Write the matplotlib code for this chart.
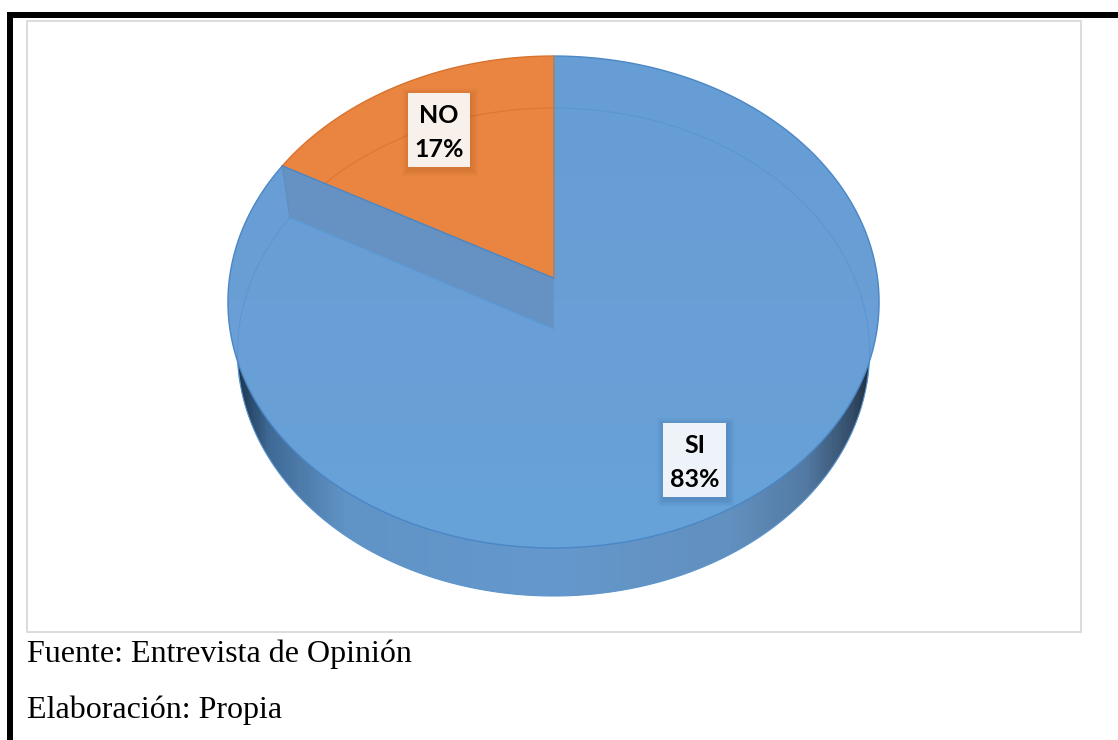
import matplotlib
matplotlib.use("Agg")
import matplotlib.pyplot as plt
import numpy as np
from matplotlib.colors import LinearSegmentedColormap
from matplotlib.patches import Polygon, Rectangle

categories = ["SI", "NO"]
shares = [83, 17]
source_lines = ["Fuente: Entrevista de Opinión", "Elaboración: Propia"]

BLUE_CUT, ORANGE = "#6592C2", "#E98540"
EDGE_BLUE, EDGE_ORANGE = "#4A87C6", "#D8722E"
CX = 553.5

fig = plt.figure(figsize=(11.18, 7.4), dpi=100)
ax = fig.add_axes([0, 0, 1, 1])


def rim(deg, mid, amp, k, half_w):
    # circle seen in perspective, deg counted anticlockwise from the top
    t = np.radians(deg)
    w = 1 + k * np.cos(t)
    return CX - half_w * np.sin(t) / w, (mid - amp * np.cos(t)) / w


def top_rim(deg):
    return rim(deg, 278, 216.5, 0.0976, 324)


def low_rim(deg):
    return rim(deg, 329, 210.8, 0.0943, 314.6)


def xy(pts):
    return np.column_stack(pts)


def clipped_gradient(cmap, vals, extent, outline, zorder):
    im = ax.imshow(vals, cmap=cmap, aspect="auto", extent=extent, zorder=zorder)
    patch = Polygon(outline, closed=True, transform=ax.transData,
                    facecolor="none", edgecolor="none")
    ax.add_patch(patch)
    im.set_clip_path(patch)


no_angle = shares[1] / sum(shares) * 360
full = np.linspace(0, 360, 721)
si_deg = np.linspace(no_angle, 360, 600)
no_deg = np.linspace(0, no_angle, 120)

# side wall, dark towards both ends
wall_cmap = LinearSegmentedColormap.from_list("wall", [
    (0.0, "#1d3650"), (0.05, "#3f6a96"), (0.17, "#6093c6"), (0.5, "#6598cc"),
    (0.78, "#6290bf"), (0.9, "#537aa3"), (0.97, "#354f6b"), (1.0, "#22303f")])
clipped_gradient(wall_cmap, np.linspace(0, 1, 400)[None, :], (236, 871, 600, 300),
                 xy(low_rim(full)), 1)
ax.plot(*low_rim(full), color="#5c95cd", lw=0.8, zorder=1.5)

# top face of SI
si_outline = np.vstack([xy(top_rim(si_deg)), [CX, 278]])
face_cmap = LinearSegmentedColormap.from_list("face", ["#669DD5", "#6A9FD6", "#66A2D8"])
clipped_gradient(face_cmap, np.linspace(0, 1, 200)[:, None], (220, 890, 550, 50), si_outline, 2)
ax.add_patch(Polygon(si_outline, closed=True, facecolor="none", edgecolor=EDGE_BLUE, lw=1.0, zorder=2.1))

# recess left by the NO slice
cut = [top_rim(no_angle), (CX, 278), (CX, 329), low_rim(no_angle)]
ax.add_patch(Polygon(cut, closed=True, facecolor=BLUE_CUT, edgecolor="none", zorder=3))
ax.plot([cut[1][0], cut[0][0]], [cut[1][1], cut[0][1]], color=EDGE_BLUE, lw=1.0, zorder=5)
ax.plot([cut[2][0], cut[3][0]], [cut[2][1], cut[3][1]], color="#5b9bd8", lw=0.9, zorder=3.5)
ax.plot([cut[0][0], cut[3][0]], [cut[0][1], cut[3][1]], color="#5f8dbd", lw=0.8, zorder=3.5)

# NO slice
no_outline = np.vstack([xy(top_rim(no_deg)), [CX, 278]])
no_patch = Polygon(no_outline, closed=True, facecolor=ORANGE, edgecolor="none", zorder=4)
ax.add_patch(no_patch)
ax.plot(*top_rim(no_deg), color=EDGE_ORANGE, lw=1.0, zorder=4.5)
ax.plot([CX, CX], [56, 278], color="#9a8a70", lw=0.7, zorder=4.5)

# bottom rim showing faintly through the faces
lx, ly = low_rim(si_deg)
ax.plot(np.where(ly < 385, lx, np.nan), ly, color="#4f8cc8", lw=0.8, alpha=0.45, zorder=3.6)
arc, = ax.plot(*low_rim(no_deg), color="#D8722E", lw=0.9, alpha=0.7, zorder=4.6)
arc.set_clip_path(no_patch)

# labels
boxes = {"NO": (408, 93, 62, 74, "#F8F0EA"), "SI": (663, 423, 63, 74, "#EEF3FA")}
for name, share in zip(categories, shares):
    x, y, w, h, face = boxes[name]
    for grow in [7, 5.5, 4, 2.5, 1]:
        ax.add_patch(Rectangle((x - grow + 1, y - grow + 2), w + 2 * grow, h + 2 * grow,
                               facecolor="#2f5f94" if name == "SI" else "#a9531c",
                               edgecolor="none", alpha=0.06, zorder=6))
    ax.add_patch(Rectangle((x, y), w, h, facecolor=face, edgecolor="none", zorder=7))
    ax.text(x + w / 2, y + h * 0.30, name, ha="center", va="center", family="Lato",
            fontweight="bold", fontsize=18, color="black", zorder=8)
    ax.text(x + w / 2, y + h * 0.76, f"{share}%", ha="center", va="center", family="Lato",
            fontweight="bold", fontsize=18, color="black", zorder=8)

# chart frame and page border
ax.add_patch(Rectangle((27, 20.5), 1054, 611.5, facecolor="none", edgecolor="#D9D9D9", lw=1.3, zorder=0.5))
ax.add_patch(Rectangle((7, 12), 6, 728, facecolor="black", edgecolor="none", zorder=9))
ax.add_patch(Rectangle((7, 12), 1111, 6, facecolor="black", edgecolor="none", zorder=9))

ax.text(27, 654, source_lines[0], family="Liberation Serif", fontsize=23, va="center", color="black")
ax.text(27, 710, source_lines[1], family="Liberation Serif", fontsize=23, va="center", color="black")

ax.set_xlim(0, 1118)
ax.set_ylim(740, 0)
ax.axis("off")
fig.savefig("out.png", dpi=100, facecolor="white")
